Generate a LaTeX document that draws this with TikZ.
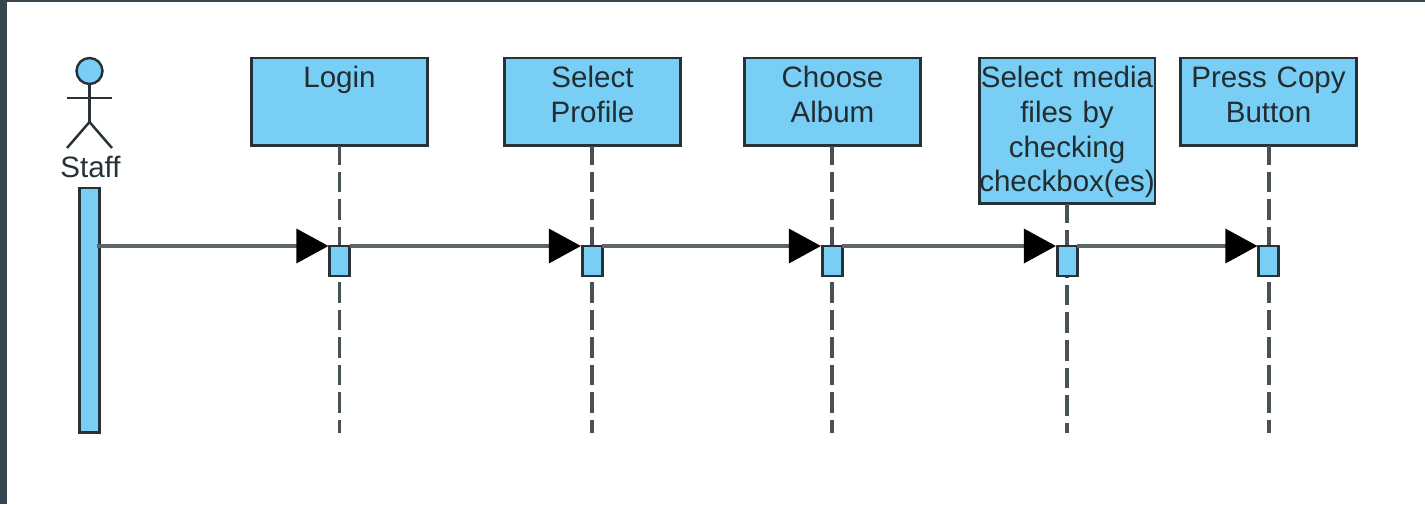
\documentclass[tikz,border=0pt]{standalone}
\usepackage{fontspec}
\setmainfont{Liberation Sans}
\usetikzlibrary{arrows.meta,positioning}
\definecolor{frame}{HTML}{37474F}
\definecolor{lifefill}{HTML}{79CEF5}
\definecolor{lifeline}{HTML}{263238}
\tikzset{
  lifebox/.style={draw=lifeline, fill=lifefill, line width=1.7pt, anchor=north, inner sep=0pt, outer sep=0pt,
    text width=3.52cm, align=center, text=lifeline!90!black, text height=17pt, text depth=#1,
    font=\fontsize{16.8}{19.7}\selectfont},
  lifedash/.style={draw=lifeline!85, line width=1.9pt, dash pattern=on 11.7pt off 4pt, dash phase=1pt},
  activation/.style={draw=lifeline, fill=lifefill, line width=1.7pt, anchor=north, inner sep=0pt, outer sep=0pt,
    minimum width=0.4cm, minimum height=0.6cm},
  message/.style={draw=lifeline!75, line width=1.9pt, shorten >=0.6pt, -{Triangle[length=0.64cm,width=0.68cm,black]}},
  stick/.style={draw=lifeline, line width=1.4pt}
}
\begin{document}
\begin{tikzpicture}[x=0.02cm, y=-0.02cm]
\fill[frame] (0,0) rectangle (1425,504);
\fill[white] (7,2) rectangle (1425,504);
\useasboundingbox (0,0) rectangle (1425,504);

\node[circle, draw=lifeline, fill=lifefill, line width=1.4pt, inner sep=0pt, outer sep=0pt, minimum size=0.52cm] (head) at (89.5,71) {};
\coordinate (hip) at (89.5,122);
\coordinate (armL) at (67,98);
\coordinate (armR) at (112,98);
\coordinate (legL) at (67,148);
\coordinate (legR) at (112,148);
\draw[stick] (head.south) -- (hip);
\draw[stick] (armL) -- (armR);
\draw[stick] (legL) -- (hip) -- (legR);
\node[inner sep=0pt, text=lifeline, font=\fontsize{16.8}{19.7}\selectfont] (staff) at (90.5,167) {Staff};
\node[draw=lifeline, fill=lifefill, line width=1.7pt, anchor=north, inner sep=0pt, outer sep=0pt, minimum width=0.4cm, minimum height=4.9cm] (staffbar) at (89.5,188) {};

\node[lifebox=33pt] (login) at (339.5,58) {Login};
\node[lifebox=33pt] (profile) at (592.5,58) {Select\\Profile};
\node[lifebox=33pt] (album) at (832.5,58) {Choose\\Album};
\node[lifebox=66pt] (media) at (1067,58) {Select media\\files by\\checking\\checkbox(es)};
\node[lifebox=33pt] (copy) at (1268.5,58) {Press Copy\\Button};

\coordinate (endA) at (339.5,433);
\coordinate (endB) at (592,433);
\coordinate (endC) at (832,433);
\coordinate (endD) at (1067,433);
\coordinate (endE) at (1269,433);
\draw[lifedash] (login.south -| endA) -- (endA);
\draw[lifedash] (profile.south -| endB) -- (endB);
\draw[lifedash] (album.south -| endC) -- (endC);
\draw[lifedash] (media.south -| endD) -- (endD);
\draw[lifedash] (copy.south -| endE) -- (endE);

\node[activation] (actA) at (339.5,246) {};
\node[activation] (actB) at (592,246) {};
\node[activation] (actC) at (832,246) {};
\node[activation] (actD) at (1067,246) {};
\node[activation] (actE) at (1268.5,246) {};

\coordinate (start) at (97,246);
\draw[message] (start) -- (actA.north west);
\draw[message] (actA.north east) -- (actB.north west);
\draw[message] (actB.north east) -- (actC.north west);
\draw[message] (actC.north east) -- (actD.north west);
\draw[message] (actD.north east) -- (actE.north west);
\end{tikzpicture}
\end{document}
